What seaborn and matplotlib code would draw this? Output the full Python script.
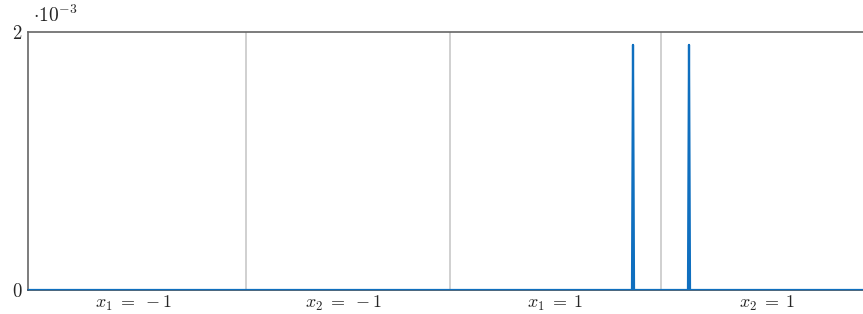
import matplotlib
matplotlib.use("Agg")
import matplotlib.pyplot as plt
import seaborn as sns
import pandas as pd

# data (x in arbitrary position units along the axis)
xs = [0, 604, 605, 606, 660, 661, 662, 835]
ys = [0, 0, 1.9e-3, 0, 0, 1.9e-3, 0, 0]
separators = [218, 422, 633]
label_pos = [105, 315, 527, 739]
labels = [r"$x_1\;=\;-1$", r"$x_2\;=\;-1$", r"$x_1\;=\;1$", r"$x_2\;=\;1$"]
yticks = [0, 2e-3]
ytick_labels = ["$0$", "$2$"]

sns.set_theme(style="white")
plt.rcParams["mathtext.fontset"] = "cm"
plt.rcParams["font.family"] = ["DejaVu Serif"]

fig = plt.figure(figsize=(8.63, 3.14), dpi=100)
ax = fig.add_axes([28/863, 24/314, 835/863, 258/314])

df = pd.DataFrame({"x": xs, "y": ys})
for s in separators:
    ax.axvline(s, color="#c8c8c8", lw=1.2, zorder=1)
sns.lineplot(data=df, x="x", y="y", ax=ax, color="#0f6fbf", lw=1.6, zorder=3)

ax.set_xlim(0, 835)
ax.set_ylim(0, 2e-3)
ax.set_xticks(label_pos)
ax.set_xticklabels(labels, fontsize=13)
ax.set_yticks(yticks)
ax.set_yticklabels(ytick_labels, fontsize=13.5)
ax.tick_params(axis="x", length=0, pad=2.5)
ax.tick_params(axis="y", length=0, pad=4)
ax.set_xlabel("")
ax.set_ylabel("")

for side in ["left", "top", "bottom"]:
    ax.spines[side].set_color("#666666")
    ax.spines[side].set_linewidth(1.2)
ax.spines["bottom"].set_color("#2a4a66")
ax.spines["right"].set_visible(False)

fig.text(33/863, 1 - 15/314, r"$\cdot 10^{-3}$", fontsize=14, va="center", ha="left")

fig.savefig("out.png", dpi=100)
